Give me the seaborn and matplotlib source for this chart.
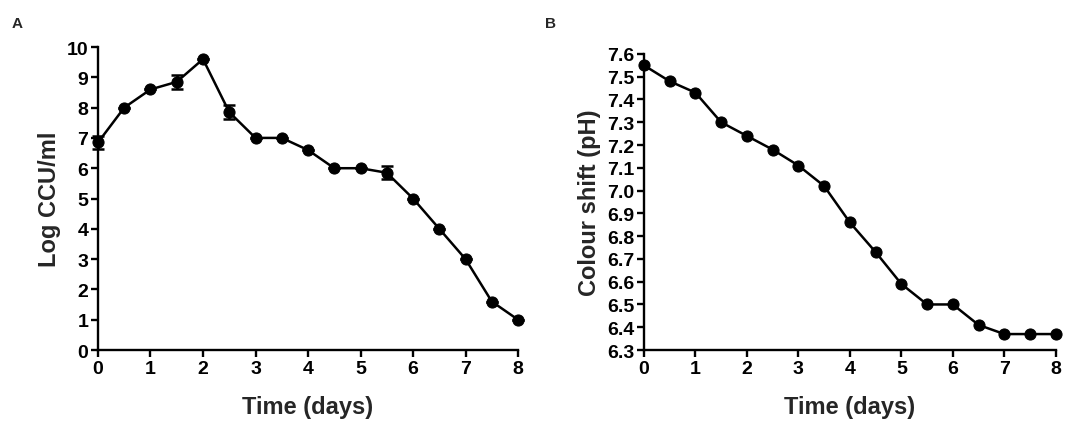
import numpy as np
import pandas as pd
import matplotlib
matplotlib.use("Agg")
import matplotlib.pyplot as plt
import seaborn as sns

days = [0, 0.5, 1, 1.5, 2, 2.5, 3, 3.5, 4, 4.5, 5, 5.5, 6, 6.5, 7, 7.5, 8]
log_ccu = [6.85, 8.0, 8.6, 8.85, 9.6, 7.85, 7.0, 7.0, 6.6, 6.0, 6.0, 5.85, 5.0, 4.0, 3.0, 1.6, 1.0]
log_ccu_sd = [0.2, 0.0, 0.0, 0.22, 0.0, 0.22, 0.0, 0.0, 0.0, 0.0, 0.0, 0.22, 0.0, 0.0, 0.0, 0.0, 0.0]
ph = [7.55, 7.48, 7.43, 7.30, 7.24, 7.18, 7.11, 7.02, 6.86, 6.73, 6.59, 6.50, 6.50, 6.41, 6.37, 6.37, 6.37]

sns.set_style("ticks")
plt.rcParams['font.family'] = ['Liberation Sans', 'DejaVu Sans']
plt.rcParams['font.weight'] = 'bold'

df = pd.DataFrame({'day': days, 'ccu': log_ccu, 'sd': log_ccu_sd, 'ph': ph})

fig = plt.figure(figsize=(10.84, 4.31), dpi=100)
ax1 = fig.add_axes([0.0904, 0.1856, 0.3875, 0.703])
ax2 = fig.add_axes([0.594, 0.1856, 0.380, 0.687])


def style_axis(ax):
    sns.despine(ax=ax)
    for side in ['left', 'bottom']:
        ax.spines[side].set_linewidth(1.7)
        ax.spines[side].set_color('black')
    ax.tick_params(axis='both', direction='out', length=5, width=1.7,
                   labelsize=14, colors='black', pad=2)
    ax.set_xlim(0, 8)
    ax.set_xticks(range(0, 9))
    ax.set_xlabel('Time (days)', fontsize=17, fontweight='bold', labelpad=13)
    for lab in ax.get_xticklabels() + ax.get_yticklabels():
        lab.set_fontweight('bold')


# Panel A
sns.lineplot(data=df, x='day', y='ccu', ax=ax1, color='black', linewidth=1.8,
             marker='o', markersize=8, markeredgecolor='black', clip_on=False)
ax1.errorbar(df['day'], df['ccu'], yerr=df['sd'], fmt='none', ecolor='black',
             elinewidth=1.8, capsize=4, capthick=1.8, clip_on=False)
ax1.set_ylim(0, 10)
ax1.set_yticks(range(0, 11))
ax1.set_ylabel('Log CCU/ml', fontsize=17, fontweight='bold', labelpad=4)
style_axis(ax1)

# Panel B
sns.lineplot(data=df, x='day', y='ph', ax=ax2, color='black', linewidth=1.8,
             marker='o', markersize=8, markeredgecolor='black', clip_on=False)
ax2.set_ylim(6.3, 7.6)
ax2.set_yticks(np.round(np.arange(6.3, 7.61, 0.1), 1))
ax2.yaxis.set_major_formatter(matplotlib.ticker.FormatStrFormatter('%.1f'))
ax2.set_ylabel('Colour shift (pH)', fontsize=17, fontweight='bold', labelpad=4)
style_axis(ax2)

fig.text(0.011, 0.935, 'A', fontsize=11, fontweight='bold')
fig.text(0.503, 0.935, 'B', fontsize=11, fontweight='bold')

fig.savefig('out.png', dpi=100)
